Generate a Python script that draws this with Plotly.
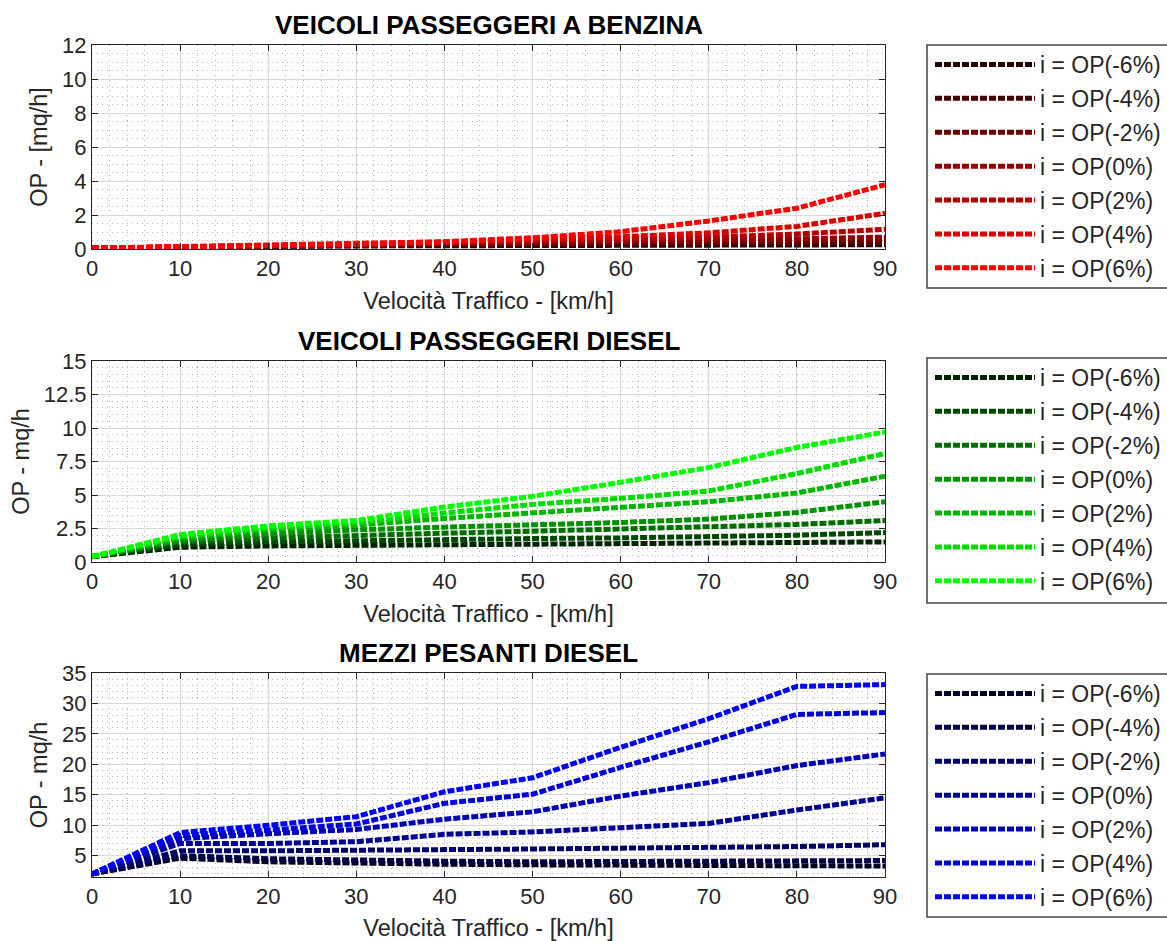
import plotly.graph_objects as go

SPEED = [0, 10, 20, 30, 40, 50, 60, 70, 80, 90]
LABELS = ["i = OP(-6%)", "i = OP(-4%)", "i = OP(-2%)", "i = OP(0%)",
          "i = OP(2%)", "i = OP(4%)", "i = OP(6%)"]

# Panel 1: VEICOLI PASSEGGERI A BENZINA
BENZ_M6 = [0.05, 0.12, 0.15, 0.18, 0.2, 0.22, 0.23, 0.24, 0.25, 0.25]
BENZ_M4 = [0.05, 0.13, 0.17, 0.2, 0.24, 0.27, 0.29, 0.31, 0.33, 0.35]
BENZ_M2 = [0.05, 0.14, 0.18, 0.23, 0.28, 0.32, 0.36, 0.4, 0.45, 0.5]
BENZ_0 = [0.05, 0.14, 0.19, 0.25, 0.32, 0.38, 0.45, 0.52, 0.6, 0.7]
BENZ_P2 = [0.05, 0.15, 0.2, 0.26, 0.36, 0.46, 0.58, 0.7, 0.88, 1.16]
BENZ_P4 = [0.05, 0.15, 0.2, 0.27, 0.4, 0.55, 0.72, 0.95, 1.33, 2.1]
BENZ_P6 = [0.05, 0.15, 0.2, 0.28, 0.43, 0.66, 1.02, 1.65, 2.4, 3.78]

# Panel 2: VEICOLI PASSEGGERI DIESEL
DCAR_M6 = [0.4, 1.1, 1.2, 1.25, 1.3, 1.35, 1.4, 1.4, 1.45, 1.5]
DCAR_M4 = [0.4, 1.3, 1.5, 1.6, 1.7, 1.75, 1.8, 1.9, 2.0, 2.2]
DCAR_M2 = [0.4, 1.5, 1.8, 2.0, 2.15, 2.3, 2.45, 2.6, 2.8, 3.1]
DCAR_0 = [0.4, 1.6, 2.1, 2.4, 2.6, 2.75, 2.95, 3.2, 3.7, 4.5]
DCAR_P2 = [0.4, 1.8, 2.4, 2.75, 3.25, 3.65, 4.1, 4.5, 5.15, 6.4]
DCAR_P4 = [0.4, 1.9, 2.55, 2.95, 3.65, 4.3, 4.75, 5.3, 6.6, 8.1]
DCAR_P6 = [0.4, 2.05, 2.7, 3.1, 4.1, 4.9, 5.95, 7.05, 8.55, 9.7]

# Panel 3: MEZZI PESANTI DIESEL
HDV_M6 = [2.0, 4.6, 4.0, 3.7, 3.6, 3.5, 3.4, 3.4, 3.3, 3.3]
HDV_M4 = [2.0, 5.0, 4.5, 4.2, 4.1, 4.0, 4.0, 4.0, 4.1, 4.2]
HDV_M2 = [2.0, 5.8, 5.8, 5.8, 6.0, 6.1, 6.2, 6.3, 6.5, 6.8]
HDV_0 = [2.0, 7.0, 7.0, 7.3, 8.5, 8.9, 9.6, 10.3, 12.5, 14.5]
HDV_P2 = [2.0, 7.8, 8.6, 9.3, 11.0, 12.2, 14.8, 17.0, 19.8, 21.7]
HDV_P4 = [2.0, 8.3, 9.2, 10.2, 13.6, 15.1, 19.5, 23.7, 28.2, 28.5]
HDV_P6 = [2.0, 8.8, 10.0, 11.4, 15.5, 17.8, 22.8, 27.5, 32.8, 33.1]

PANELS = [
    dict(title="VEICOLI PASSEGGERI A BENZINA", ytitle="OP - [mq/h]",
         series=[BENZ_M6, BENZ_M4, BENZ_M2, BENZ_0, BENZ_P2, BENZ_P4, BENZ_P6],
         channel=0, yrange=[0, 12], ydtick=2, yminor=0.5,
         dom=(45, 249), leg=(45, 288)),
    dict(title="VEICOLI PASSEGGERI DIESEL", ytitle="OP - mq/h",
         series=[DCAR_M6, DCAR_M4, DCAR_M2, DCAR_0, DCAR_P2, DCAR_P4, DCAR_P6],
         channel=1, yrange=[0, 15], ydtick=2.5, yminor=0.5,
         dom=(361, 562), leg=(358, 603)),
    dict(title="MEZZI PESANTI DIESEL", ytitle="OP - mq/h",
         series=[HDV_M6, HDV_M4, HDV_M2, HDV_0, HDV_P2, HDV_P4, HDV_P6],
         channel=2, yrange=[1.5, 35], ydtick=5, yminor=1,
         dom=(673, 877), leg=(674, 917)),
]

W, H = 1167, 941
FONT = "Liberation Sans, Arial, Helvetica, sans-serif"
AX_COLOR = "#262626"

fig = go.Figure()
layout = dict(
    width=W, height=H, margin=dict(l=0, r=0, t=0, b=0, autoexpand=False),
    paper_bgcolor="white", plot_bgcolor="white",
    font=dict(family=FONT, size=22, color=AX_COLOR),
    showlegend=True, shapes=[], annotations=[],
)

x0p, x1p = 92 / W, 885 / W
for p, panel in enumerate(PANELS):
    n = p + 1
    xa = "xaxis" if n == 1 else f"xaxis{n}"
    ya = "yaxis" if n == 1 else f"yaxis{n}"
    xr = "x" if n == 1 else f"x{n}"
    yr = "y" if n == 1 else f"y{n}"
    lg = "legend" if n == 1 else f"legend{n}"
    top, bot = panel["dom"]
    ltop, lbot = panel["leg"]
    for k, (lab, vals) in enumerate(zip(LABELS, panel["series"])):
        v = int(round(255 * (k + 1) / 7))
        rgb = [0, 0, 0]
        rgb[panel["channel"]] = v
        color = f"rgb({rgb[0]},{rgb[1]},{rgb[2]})"
        fig.add_trace(go.Scatter(
            x=SPEED, y=vals, mode="lines", name=lab,
            line=dict(color=color, width=5, dash="7px,2px"),
            xaxis=xr, yaxis=yr, legend=lg, legendgroup=f"p{n}g{k}",
        ))
    layout[xa] = dict(
        domain=[x0p, x1p], anchor=yr, range=[0, 90], tickvals=list(range(0, 91, 10)),
        showline=True, linecolor=AX_COLOR, linewidth=1, mirror="ticks",
        ticks="inside", ticklen=6, tickcolor=AX_COLOR,
        showgrid=True, gridcolor="#d9d9d9", gridwidth=1, zeroline=False,
        minor=dict(dtick=2, tick0=0, showgrid=True, gridcolor="#b4b4b4",
                   griddash="1px,4px", gridwidth=1),
        title=dict(text="Velocità Traffico - [km/h]", standoff=12,
                   font=dict(size=23.5, color=AX_COLOR)),
        tickfont=dict(size=22, color=AX_COLOR),
    )
    layout[ya] = dict(
        domain=[1 - bot / H, 1 - top / H], anchor=xr, range=panel["yrange"],
        dtick=panel["ydtick"], tick0=0,
        showline=True, linecolor=AX_COLOR, linewidth=1, mirror="ticks",
        ticks="inside", ticklen=6, tickcolor=AX_COLOR,
        showgrid=True, gridcolor="#d9d9d9", gridwidth=1, zeroline=False,
        minor=dict(dtick=panel["yminor"], tick0=0, showgrid=True, gridcolor="#b4b4b4",
                   griddash="1px,4px", gridwidth=1),
        title=dict(text=panel["ytitle"], standoff=7,
                   font=dict(size=23.5, color=AX_COLOR)),
        tickfont=dict(size=22, color=AX_COLOR),
    )
    layout[lg] = dict(
        x=930 / W, xanchor="left", y=1 - (ltop - 2) / H, yanchor="top",
        bgcolor="rgba(0,0,0,0)", borderwidth=0,
        font=dict(family=FONT, size=23, color=AX_COLOR),
        tracegroupgap=1, itemwidth=100,
    )
    layout["shapes"].append(dict(
        type="rect", xref="paper", yref="paper",
        x0=927 / W, x1=1.02, y0=1 - lbot / H, y1=1 - ltop / H,
        line=dict(color="#444444", width=1.5), fillcolor="rgba(0,0,0,0)",
    ))
    layout["annotations"].append(dict(
        text=f"<b>{panel['title']}</b>", xref="paper", yref="paper",
        x=(x0p + x1p) / 2, y=1 - (top - 3) / H, xanchor="center", yanchor="bottom",
        showarrow=False, font=dict(family=FONT, size=26, color="black"),
    ))

fig.update_layout(**layout)
fig.write_html(
    "out.html",
    config={"displayModeBar": False},
    post_script="document.body.style.margin='0';document.body.style.overflow='hidden';",
)
